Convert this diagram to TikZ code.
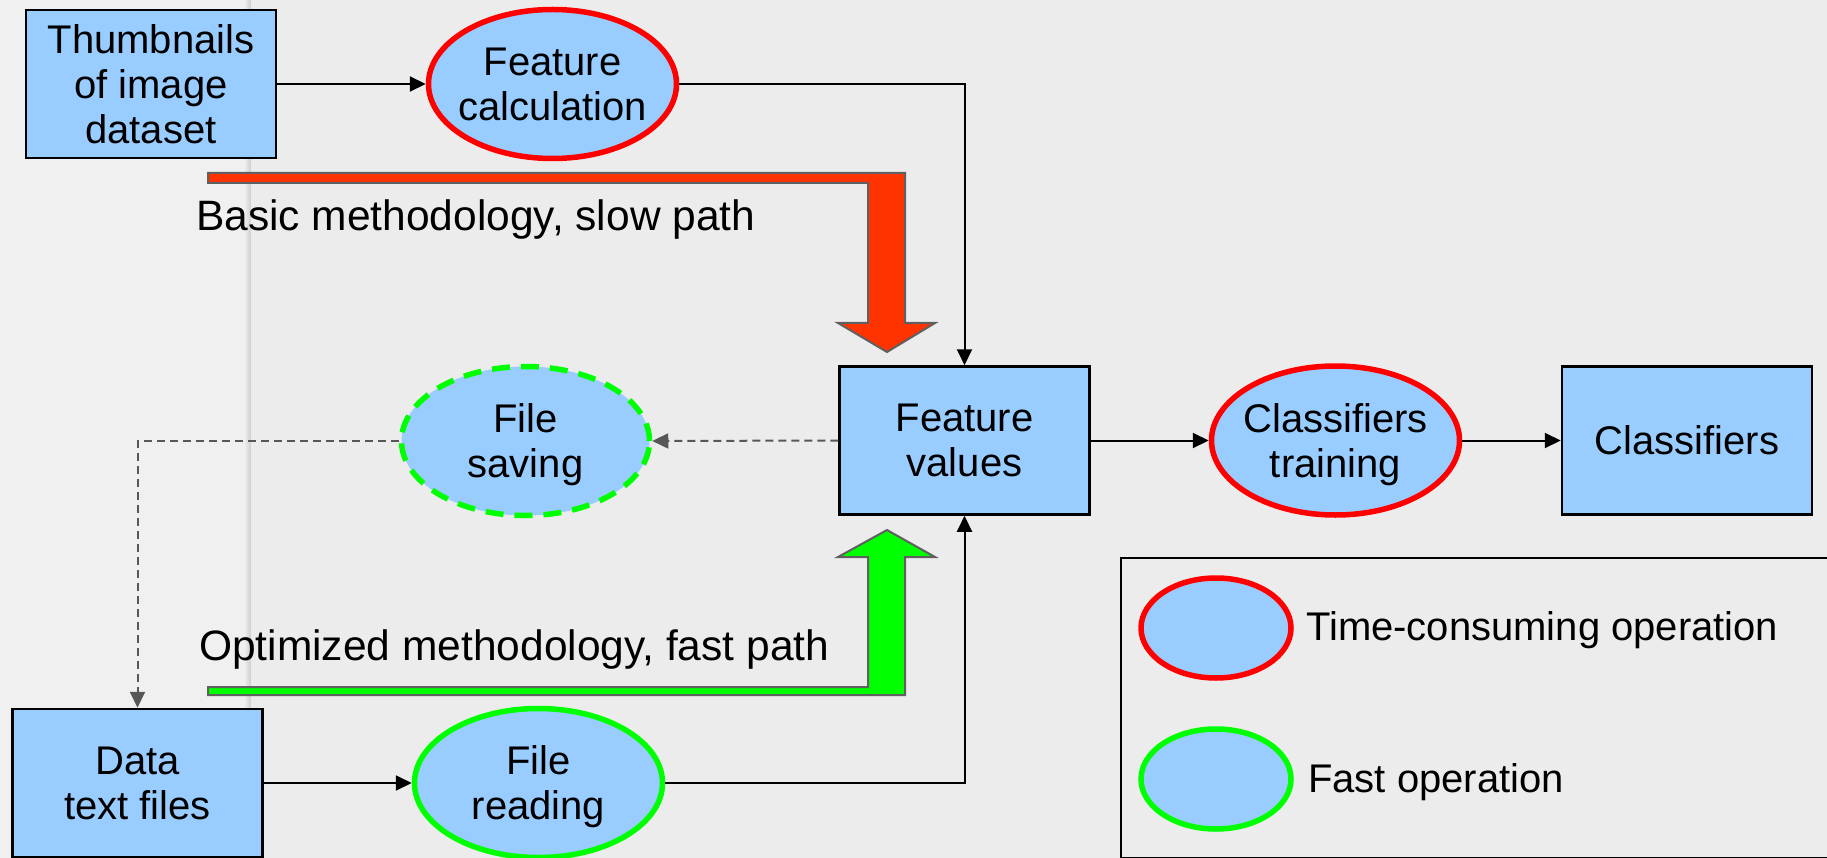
\documentclass[tikz,border=0pt]{standalone}
\usepackage{fontspec}
\setmainfont{Liberation Sans}
\usetikzlibrary{arrows.meta,shapes.geometric}

\definecolor{nodeblue}{HTML}{99CCFF}
\definecolor{slowred}{HTML}{FF0000}
\definecolor{fastgreen}{HTML}{00FF00}
\definecolor{slowfill}{HTML}{FF3300}
\definecolor{arrowedge}{HTML}{606060}
\definecolor{dashgray}{HTML}{575757}
\definecolor{paper}{HTML}{ECECEC}
\definecolor{paperleft}{HTML}{F0F0F0}
\definecolor{foldline}{HTML}{D2D2D2}

\begin{document}
\begin{tikzpicture}[x=1pt,y=-1pt,
  nodefont/.style={font=\fontsize{40}{45}\selectfont},
  datanode/.style={rectangle, draw=black, line width=2.5pt, fill=nodeblue,
    minimum width=250pt, minimum height=148pt, inner sep=0pt,
    align=center, text depth=0pt, nodefont},
  opnode/.style={ellipse, fill=nodeblue, line width=5.5pt,
    minimum width=248pt, minimum height=149pt, inner sep=0pt},
  optext/.style={align=center, text depth=0pt, nodefont, inner sep=0pt},
  slowop/.style={opnode, draw=slowred},
  fastop/.style={opnode, draw=fastgreen},
  saveop/.style={opnode, draw=fastgreen, dash pattern=on 18pt off 11pt},
  conn/.style={line width=2pt, -{Triangle[length=16pt,width=15pt]}},
  dconn/.style={conn, draw=dashgray, dash pattern=on 8pt off 5pt},
  fatarrow/.style={draw=arrowedge, line width=2pt, line join=miter},
  pathlabel/.style={font=\fontsize{42.5}{48}\selectfont, anchor=base west, inner sep=0pt},
  legendtext/.style={nodefont, anchor=base west, inner sep=0pt},
]
\useasboundingbox (0,0) rectangle (1827,858);
\clip (0,0) rectangle (1827,858);

% paper background with the fold line on the left
\fill[paper] (0,0) rectangle (1827,858);
\fill[paperleft] (0,0) rectangle (250,858);
\shade[left color=paperleft, right color=foldline] (244,0) rectangle (250,858);
\draw[foldline, line width=1pt] (250,0) -- (250,858);

% wide bent arrows for the two methodologies
\filldraw[fatarrow, fill=slowfill]
  (208,173) -- (905,173) -- (905,323) -- (935,323) -- (887,352)
  -- (838,323) -- (868,323) -- (868,183) -- (208,183) -- cycle;
\filldraw[fatarrow, fill=fastgreen]
  (208,695) -- (905,695) -- (905,557) -- (935,557) -- (887,530)
  -- (838,557) -- (868,557) -- (868,687) -- (208,687) -- cycle;

\node[pathlabel] (slowlabel) at (196,231) {Basic methodology, slow path};
\node[pathlabel] (fastlabel) at (199,660) {Optimized methodology, fast path};

% processing nodes
\node[datanode] (thumbs) at (151,84) {Thumbnails\\of image\\dataset};
\node[slowop, label={[optext]center:Feature\\calculation}] (fcalc) at (552.5,84) {};
\node[datanode] (fval) at (964.5,440.5) {Feature\\values};
\node[slowop, label={[optext]center:Classifiers\\training}] (ctrain) at (1335.5,440.5) {};
\node[datanode] (cls) at (1687,440.5) {Classifiers};
\node[saveop, label={[optext]center:File\\saving}] (fsave) at (525.5,441) {};
\node[datanode] (dtext) at (137.5,783) {Data\\text files};
\node[fastop, label={[optext]center:File\\reading}] (fread) at (538.5,783) {};

% connectors
\draw[conn] (thumbs.east) -- (fcalc.west);
\draw[conn] (fcalc.east) -| (fval.north);
\draw[conn] (fval.east) -- (ctrain.west);
\draw[conn] (ctrain.east) -- (cls.west);
\draw[dconn] (fval.west) -- (fsave.east);
\draw[dconn] (fsave.west) -| (dtext.north);
\draw[conn] (dtext.east) -- (fread.west);
\draw[conn] (fread.east) -| (fval.south);

% legend
\node[draw=black, line width=2pt, minimum width=720pt, minimum height=300pt,
      inner sep=0pt, anchor=north west] (legend) at (1120,557) {};
\node[opnode, draw=slowred, minimum width=150pt, minimum height=100pt] (keyslow) at (1216,628) {};
\node[opnode, draw=fastgreen, minimum width=150pt, minimum height=100pt] (keyfast) at (1216,779) {};
\node[legendtext] (keyslowtext) at (1306,640) {Time-consuming operation};
\node[legendtext] (keyfasttext) at (1308,792) {Fast operation};
\end{tikzpicture}
\end{document}
